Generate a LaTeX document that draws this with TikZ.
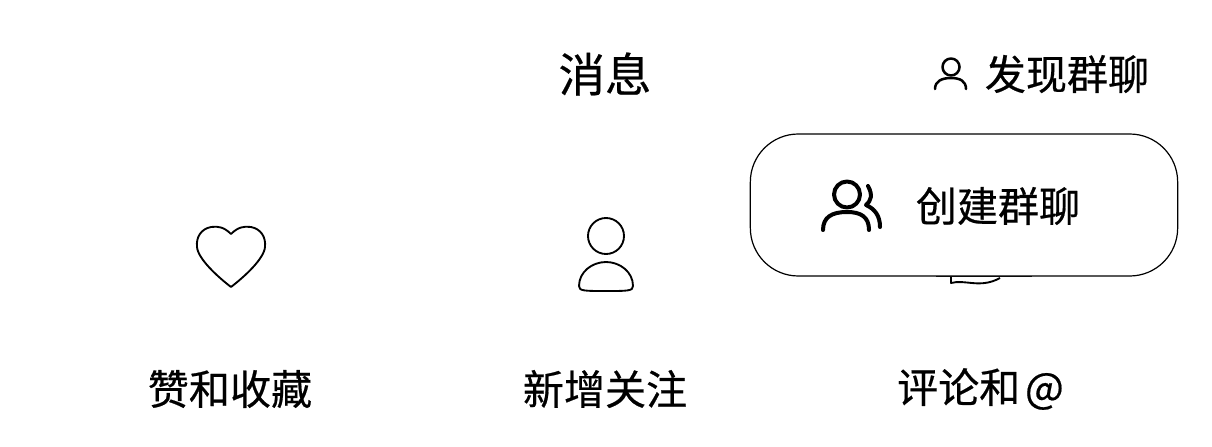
\documentclass[tikz,border=0pt]{standalone}
\usepackage{fontspec}
\setmainfont{Noto Sans CJK SC}[FakeBold=0.5]
\usetikzlibrary{positioning, calc}

\tikzset{
    title/.style={font=\fontsize{34.8}{36}\selectfont, inner sep=0pt},
    label/.style={font=\fontsize{30.8}{32}\selectfont, inner sep=0pt},
    icon/.style={draw=black, line width=1.9pt, line cap=round, line join=round},
    thick icon/.style={icon, line width=3pt},
    thin icon/.style={draw=black, line width=1.4pt, line join=round}
}

\begin{document}
\begin{tikzpicture}[x=0.75pt, y=-0.75pt]
        \useasboundingbox (0,0) rectangle (1212,446);

        % Header
        \node[title] (msg) at (605,74) {消息};
        \node[label] (find) at (1067,74) {发现群聊};
        \draw[icon] (951,67) circle (8.5);
        \draw[icon] (935,89) .. controls (935,81) and (942,78) .. (951,78) .. controls (960,78) and (966,81) .. (966,89);

        % Scrap under the bubble
        \draw[black, line width=1.4pt] (936,276) -- (1032,276);
        \draw[thin icon] (951,275) -- (951,283) .. controls (965,279) and (980,289) .. (1000,278);

        % Bubble
        \node[draw=black, line width=0.9pt, fill=white, rounded corners=36, minimum width=320.5pt, minimum height=106.5pt] (bubble) at (964,205) {};
        \node[label] (create) at (998,206) {创建群聊};
        \draw[thick icon] (847,194.5) circle (13);
        \draw[thick icon] (823,230) .. controls (823,217) and (832,212) .. (847,212) .. controls (861,212) and (869,217) .. (869,230);
        \draw[thick icon] (868,186) .. controls (873,195) and (871,201) .. (866,205) .. controls (875,209) and (880,216) .. (880,227);

        % Heart
        \draw[thin icon] (231,234) .. controls (224,227) and (218,226) .. (211,227) .. controls (201,229) and (196,237) .. (197,247) .. controls (198,259) and (218,277) .. (231,287) .. controls (244,277) and (264,259) .. (265,247) .. controls (266,237) and (261,229) .. (251,227) .. controls (244,226) and (238,227) .. (231,234) -- cycle;
        \node[label] (likes) at (230,389) {赞和收藏};

        % Person
        \draw[thin icon] (606,236) circle (18);
        \draw[thin icon] (579,286) .. controls (579,272) and (592,262) .. (606,262) .. controls (620,262) and (633,272) .. (633,286) .. controls (633,291) and (628,291) .. (606,291) .. controls (584,291) and (579,291) .. (579,286) -- cycle;
        \node[label] (follow) at (605,389) {新增关注};

        % Comments
        \node[label] (comment) at (980.5,389) {评论和\kern3.5pt@};
\end{tikzpicture}
\end{document}
